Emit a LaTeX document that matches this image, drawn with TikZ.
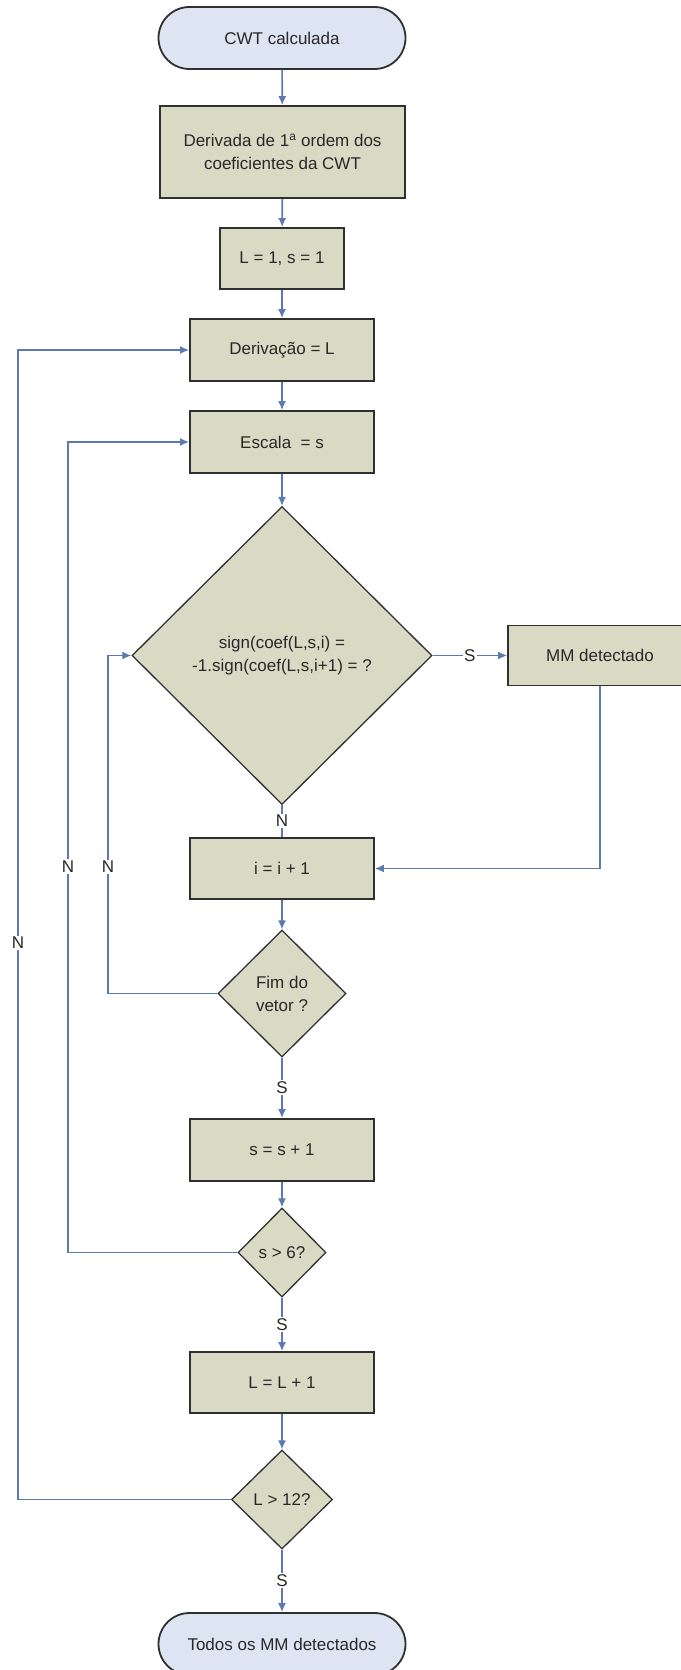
\documentclass[tikz,border=0pt]{standalone}
\usepackage{fontspec}
\setmainfont{Liberation Sans}
\usetikzlibrary{shapes.geometric,arrows.meta}
\definecolor{boxfill}{RGB}{216,218,196}
\definecolor{termfill}{RGB}{221,229,243}
\definecolor{edgec}{RGB}{48,48,48}
\definecolor{flowc}{RGB}{92,122,178}
\definecolor{txtc}{RGB}{40,40,40}
\begin{document}
\begin{tikzpicture}[x=1pt,y=-1pt,
  every node/.style={font=\fontsize{17}{23}\selectfont, text=txtc},
  proc/.style={draw=edgec, line width=1.8pt, fill=boxfill, rectangle, minimum height=62pt, inner sep=0pt, align=center},
  term/.style={draw=edgec, line width=1.8pt, fill=termfill, rectangle, rounded corners=31pt, minimum width=247pt, minimum height=62pt, inner sep=0pt},
  dec/.style={draw=edgec, line width=1.3pt, fill=boxfill, diamond, inner sep=0pt, align=center},
  flowline/.style={draw=flowc, line width=1.6pt},
  arr/.style={flowline, -{Latex[length=9pt,width=8pt]}},
  lbl/.style={fill=white, inner sep=1.5pt}
]
\fill[white] (0,0) rectangle (680,1670);
\useasboundingbox (0,0) rectangle (680,1670);

\node[term] (start) at (282,38) {CWT calculada};
\node[proc, minimum width=245pt, minimum height=92pt] (deriv) at (282.5,152) {Derivada de 1\textsuperscript{a} ordem dos\\coeficientes da CWT};
\node[proc, minimum width=124pt, minimum height=61pt] (init) at (282,258.5) {L = 1, s = 1};
\node[proc, minimum width=184pt] (derL) at (282,350) {Derivação = L};
\node[proc, minimum width=184pt] (esc) at (282,442) {Escala\ \ = s};
\node[dec, minimum width=300pt, minimum height=298pt] (sign) at (282,655.5) {sign(coef(L,s,i) =\\-1.sign(coef(L,s,i+1) = ?};
\node[proc, minimum width=184pt, minimum height=60pt] (mm) at (600,655.5) {MM detectado};
\node[proc, minimum width=184pt, minimum height=61pt] (inc) at (282,868.5) {i = i + 1};
\node[dec, minimum width=128pt, minimum height=127pt] (fim) at (282,993.5) {Fim do\\vetor ?};
\node[proc, minimum width=184pt] (sinc) at (282,1150) {s = s + 1};
\node[dec, minimum width=88pt, minimum height=89pt] (s6) at (282,1252.5) {s > 6?};
\node[proc, minimum width=184pt, minimum height=61pt] (Linc) at (282,1382.5) {L = L + 1};
\node[dec, minimum width=101pt, minimum height=99pt] (L12) at (282,1499.5) {L > 12?};
\node[term] (end) at (282,1644) {Todos os MM detectados};

\coordinate (lane1) at (108,0);
\coordinate (lane2) at (68,0);
\coordinate (lane3) at (18,0);

\draw[arr] (start) -- (deriv);
\draw[arr] (deriv) -- (init);
\draw[arr] (init) -- (derL);
\draw[arr] (derL) -- (esc);
\draw[arr] (esc) -- (sign);
\draw[arr] (sign) -- node[lbl]{S} (mm);
\draw[flowline] (sign) -- node[lbl]{N} (inc);
\draw[arr] (mm.south) |- (inc.east);
\draw[arr] (inc) -- (fim);
\draw[arr] (fim.west) -- (fim.west -| lane1) |- node[lbl, pos=0.187]{N} (sign.west);
\draw[arr] (fim) -- node[lbl]{S} (sinc);
\draw[arr] (sinc) -- (s6);
\draw[arr] (s6.west) -- (s6.west -| lane2) |- node[lbl, pos=0.238]{N} (esc.west);
\draw[arr] (s6) -- node[lbl]{S} (Linc);
\draw[arr] (Linc) -- (L12);
\draw[arr] (L12.west) -- (L12.west -| lane3) |- node[lbl, pos=0.242]{N} (derL.west);
\draw[arr] (L12) -- node[lbl]{S} (end);
\end{tikzpicture}
\end{document}
